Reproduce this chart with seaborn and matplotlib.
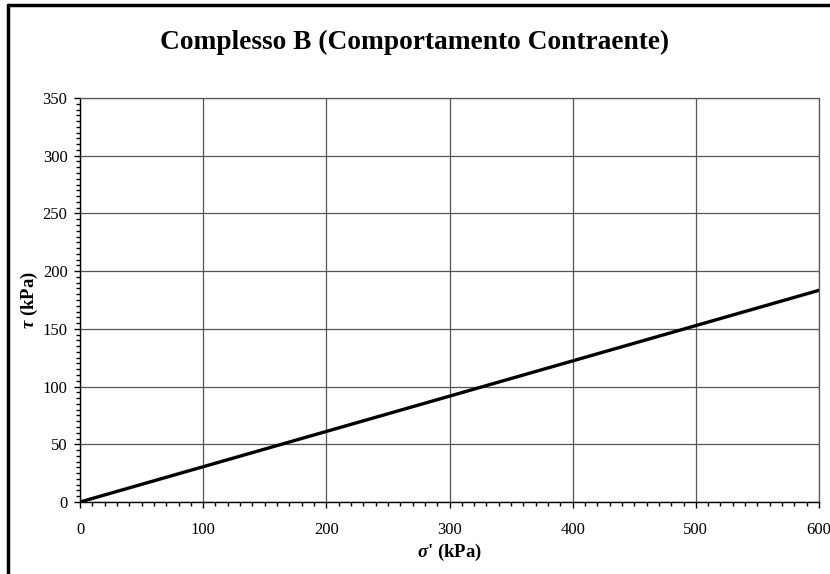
import pandas as pd
import seaborn as sns
import matplotlib.pyplot as plt
from matplotlib.ticker import MultipleLocator

# Mohr-Coulomb envelope, phi' = 17 deg, c' = 0
sigma = [0, 600]
tau = [0, 183.4]
x_ticks = [0, 100, 200, 300, 400, 500, 600]
y_ticks = [0, 50, 100, 150, 200, 250, 300, 350]

df = pd.DataFrame({"sigma": sigma, "tau": tau})

sns.set_style("white")
plt.rcParams['font.family'] = ['Liberation Serif', 'DejaVu Serif']
plt.rcParams['mathtext.fontset'] = 'custom'
plt.rcParams['mathtext.it'] = 'Liberation Serif:italic:bold'
plt.rcParams['mathtext.rm'] = 'Liberation Serif:bold'
for k in ['text.color', 'axes.labelcolor', 'xtick.color', 'ytick.color']:
    plt.rcParams[k] = 'black'

fig = plt.figure(figsize=(8.3, 5.74), dpi=100)
ax = fig.add_axes([80 / 830, 1 - 502 / 574, 739 / 830, 404 / 574])

sns.lineplot(data=df, x="sigma", y="tau", color="black", linewidth=2.4, ax=ax)

ax.set_xlim(0, 600)
ax.set_ylim(0, 350)
ax.set_xticks(x_ticks)
ax.set_yticks(y_ticks)
ax.xaxis.set_minor_locator(MultipleLocator(10))
ax.yaxis.set_minor_locator(MultipleLocator(5))
ax.tick_params(which='major', direction='out', width=1, color='black',
               labelsize=12, bottom=True, left=True)
ax.tick_params(which='minor', direction='out', width=1, color='black',
               bottom=True, left=True)
ax.tick_params(axis='x', which='major', length=4.5, pad=10)
ax.tick_params(axis='x', which='minor', length=3)
ax.tick_params(axis='y', which='major', length=4, pad=5)
ax.tick_params(axis='y', which='minor', length=2.7)
ax.grid(True, which='major', color='#555555', linewidth=0.9)

for s in ['top', 'right']:
    ax.spines[s].set_color('#555555')
    ax.spines[s].set_linewidth(0.9)
for s in ['left', 'bottom']:
    ax.spines[s].set_color('black')
    ax.spines[s].set_linewidth(1)

ax.set_xlabel(r"$\sigma$' (kPa)", fontsize=13.5, fontweight='bold', labelpad=3)
ax.set_ylabel(r"$\tau$ (kPa)", fontsize=13.5, fontweight='bold', labelpad=2)

fig.text(0.5, 1 - 42 / 574, "Complesso B (Comportamento Contraente)",
         ha='center', va='center', fontsize=19.7, fontweight='bold')

# outer chart-area frame (left and top edges visible)
fig.add_artist(plt.Line2D([8 / 830, 8 / 830], [0, 1 - 5 / 574], transform=fig.transFigure,
                          color='black', linewidth=2.5))
fig.add_artist(plt.Line2D([8 / 830, 1], [1 - 5 / 574, 1 - 5 / 574], transform=fig.transFigure,
                          color='black', linewidth=2.5))

fig.savefig("out.png", dpi=100)
